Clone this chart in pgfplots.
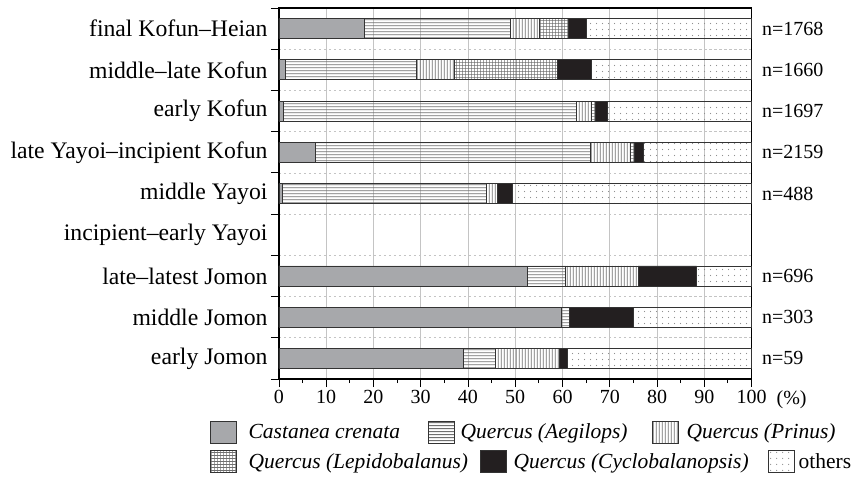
\documentclass[border=0pt]{standalone}
\usepackage{fontspec}
\setmainfont{Liberation Serif}
\usepackage{pgfplots}
\pgfplotsset{compat=1.18}
\usepackage{pgfplotstable}
\usetikzlibrary{patterns}

\definecolor{cast}{HTML}{A7A8AB}
\definecolor{cyclo}{HTML}{231F20}
\definecolor{barline}{HTML}{333333}
\definecolor{hatchc}{HTML}{707070}
\definecolor{dotc}{HTML}{909090}
\definecolor{gridc}{HTML}{C4C4C4}

\pgfdeclarepatternformonly{hl}{\pgfpointorigin}{\pgfqpoint{10bp}{2.8bp}}{\pgfqpoint{10bp}{2.8bp}}{%
  \pgfsetlinewidth{0.9bp}\pgfpathmoveto{\pgfqpoint{-1bp}{1.4bp}}\pgfpathlineto{\pgfqpoint{11bp}{1.4bp}}\pgfusepath{stroke}}
\pgfdeclarepatternformonly{vl}{\pgfpointorigin}{\pgfqpoint{3.2bp}{10bp}}{\pgfqpoint{3.2bp}{10bp}}{%
  \pgfsetlinewidth{0.9bp}\pgfpathmoveto{\pgfqpoint{1.6bp}{-1bp}}\pgfpathlineto{\pgfqpoint{1.6bp}{11bp}}\pgfusepath{stroke}}
\pgfdeclarepatternformonly{gr}{\pgfpointorigin}{\pgfqpoint{3.4bp}{3.4bp}}{\pgfqpoint{3.4bp}{3.4bp}}{%
  \pgfsetlinewidth{0.6bp}\pgfpathmoveto{\pgfqpoint{1.7bp}{-1bp}}\pgfpathlineto{\pgfqpoint{1.7bp}{4.4bp}}%
  \pgfpathmoveto{\pgfqpoint{-1bp}{1.7bp}}\pgfpathlineto{\pgfqpoint{4.4bp}{1.7bp}}\pgfusepath{stroke}}
\pgfdeclarepatternformonly{dt}{\pgfpointorigin}{\pgfqpoint{6bp}{5.5bp}}{\pgfqpoint{6bp}{5.5bp}}{%
  \pgfpathcircle{\pgfqpoint{3bp}{2.75bp}}{0.7bp}\pgfusepath{fill}}

\pgfplotstableread{
y C Ae Pr Le Cy Ot
0 39.0 6.9 13.4 0 1.8 38.9
1 59.8 1.6 0 0 13.6 25.0
2 52.6 8.1 15.3 0 12.4 11.6
3 0 0 0 0 0 0
4 0.7 43.2 2.4 0 3.1 50.6
5 7.8 58.2 8.4 0.9 1.9 22.8
6 0.9 62.0 3.3 0.7 2.6 30.5
7 1.4 27.6 8.2 21.7 7.3 33.8
8 18.0 31.0 6.1 6.1 3.9 34.9
}\data

\tikzset{
  castst/.style={fill=cast, draw=barline, line width=0.8bp},
  aegst/.style={draw=barline, line width=0.8bp, pattern=hl, pattern color=hatchc},
  prist/.style={draw=barline, line width=0.8bp, pattern=vl, pattern color=hatchc},
  lepst/.style={draw=barline, line width=0.8bp, pattern=gr, pattern color=hatchc},
  cycst/.style={fill=cyclo, draw=barline, line width=0.8bp},
  othst/.style={draw=barline, line width=0.8bp, pattern=dt, pattern color=dotc},
}

\pgfplotsset{
  legimg/.style={legend image code/.code={\draw[##1] (0bp,-11bp) rectangle (26bp,11bp); \node[draw=none,fill=none,inner sep=0pt,minimum size=0pt] at (26bp+#1,0bp) {};}},
  legax/.style={width=472.5bp,height=371bp,scale only axis,hide axis,xmin=0,xmax=1,ymin=0,ymax=1,
    at={(main.south west)}, anchor=south west,
    legend style={at={(axis description cs:#1)},anchor=west,draw=none,fill=none,inner sep=0pt,column sep=0pt,
      nodes={inner sep=0pt, font=\fontsize{21.5bp}{25bp}\selectfont\itshape}}},
}

\begin{document}
\begin{tikzpicture}
\begin{axis}[
  name=main, width=472.5bp, height=371bp, scale only axis,
  xbar stacked, bar width=20bp, clip=false,
  xmin=0, xmax=100, ymin=-0.5, ymax=8.5,
  xtick={0,10,...,100}, minor x tick num=1,
  xtick pos=bottom, ytick pos=left, tick align=outside,
  major tick length=8bp, minor tick length=4bp,
  xmajorgrids, x grid style={gridc, line width=0.8bp},
  ytick={-0.5,0.5,...,8.5}, yticklabels={},
  ymajorgrids, y grid style={gridc, dash pattern=on 2.5bp off 2.5bp, line width=0.7bp},
  extra y ticks={0,1,2,3,4,5,6,7,8},
  extra y tick labels={early Jomon, middle Jomon, late--latest Jomon, incipient--early Yayoi, middle Yayoi, late Yayoi--incipient Kofun, early Kofun, middle--late Kofun, final Kofun--Heian},
  extra y tick style={grid=none, tick style={draw=none}, yticklabel style={font=\fontsize{23.7bp}{28bp}\selectfont}},
  axis line style={line width=1.2bp, black},
  tick style={line width=0.9bp, black},
  xticklabel style={font=\fontsize{20bp}{24bp}\selectfont},
  /pgf/number format/assume math mode=true,
]
\addplot[castst] table[x=C,y=y]{\data};
\addplot[aegst] table[x=Ae,y=y]{\data};
\addplot[prist] table[x=Pr,y=y]{\data};
\addplot[lepst] table[x=Le,y=y]{\data};
\addplot[cycst] table[x=Cy,y=y]{\data};
\addplot[othst] table[x=Ot,y=y]{\data};
\node[anchor=west, inner sep=0pt, xshift=10.5bp, font=\fontsize{20bp}{24bp}\selectfont] at (axis cs:100,8) {n=1768};
\node[anchor=west, inner sep=0pt, xshift=10.5bp, font=\fontsize{20bp}{24bp}\selectfont] at (axis cs:100,7) {n=1660};
\node[anchor=west, inner sep=0pt, xshift=10.5bp, font=\fontsize{20bp}{24bp}\selectfont] at (axis cs:100,6) {n=1697};
\node[anchor=west, inner sep=0pt, xshift=10.5bp, font=\fontsize{20bp}{24bp}\selectfont] at (axis cs:100,5) {n=2159};
\node[anchor=west, inner sep=0pt, xshift=10.5bp, font=\fontsize{20bp}{24bp}\selectfont] at (axis cs:100,4) {n=488};
\node[anchor=west, inner sep=0pt, xshift=10.5bp, font=\fontsize{20bp}{24bp}\selectfont] at (axis cs:100,2) {n=696};
\node[anchor=west, inner sep=0pt, xshift=10.5bp, font=\fontsize{20bp}{24bp}\selectfont] at (axis cs:100,1) {n=303};
\node[anchor=west, inner sep=0pt, xshift=10.5bp, font=\fontsize{20bp}{24bp}\selectfont] at (axis cs:100,0) {n=59};
\node[anchor=north, inner sep=0pt, yshift=-11bp, font=\fontsize{20bp}{24bp}\selectfont] at (axis cs:108.5,-0.5) {(\%)};
\end{axis}

\begin{axis}[legax={-0.146,-0.1429}]
\addplot[draw=none, forget plot] coordinates {(0,0)};
\addlegendimage{castst, legimg=12bp}\addlegendentry{Castanea crenata}
\end{axis}
\begin{axis}[legax={0.3153,-0.1429}]
\addplot[draw=none, forget plot] coordinates {(0,0)};
\addlegendimage{aegst, legimg=6bp}\addlegendentry{Quercus (Aegilops)}
\end{axis}
\begin{axis}[legax={0.7894,-0.1429}]
\addplot[draw=none, forget plot] coordinates {(0,0)};
\addlegendimage{prist, legimg=8bp}\addlegendentry{Quercus (Prinus)}
\end{axis}
\begin{axis}[legax={-0.146,-0.2224}]
\addplot[draw=none, forget plot] coordinates {(0,0)};
\addlegendimage{lepst, legimg=12bp}\addlegendentry{Quercus (Lepidobalanus)}
\end{axis}
\begin{axis}[legax={0.4254,-0.2224}]
\addplot[draw=none, forget plot] coordinates {(0,0)};
\addlegendimage{cycst, legimg=7bp}\addlegendentry{Quercus (Cyclobalanopsis)}
\end{axis}
\begin{axis}[legax={1.0349,-0.2224}]
\addplot[draw=none, forget plot] coordinates {(0,0)};
\addlegendimage{othst, legimg=4bp}\addlegendentry{\upshape others}
\end{axis}

\pgfresetboundingbox
\path ([shift={(-279bp,-99bp)}]main.south west) rectangle ([shift={(574bp,379bp)}]main.south west);
\end{tikzpicture}
\end{document}
